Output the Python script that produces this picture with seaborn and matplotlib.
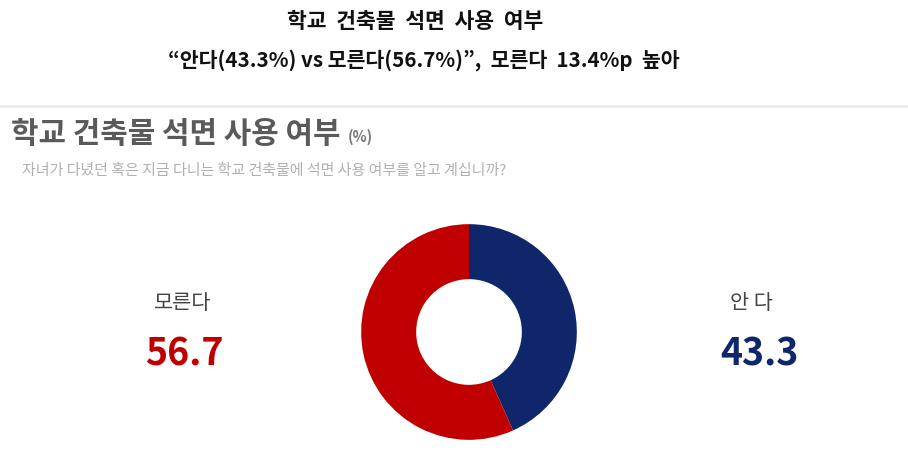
import matplotlib
matplotlib.use("Agg")
import matplotlib.pyplot as plt
import seaborn as sns

labels = ["안다", "모른다"]
values = [43.3, 56.7]
colors = ["#10266a", "#c00000"]
title_lines = ["학교 건축물 석면 사용 여부",
               "“안다(43.3%) vs 모른다(56.7%)”, 모른다 13.4%p 높아"]
chart_title = "학교 건축물 석면 사용 여부"
question = "자녀가 다녔던 혹은 지금 다니는 학교 건축물에 석면 사용 여부를 알고 계십니까?"

sns.set_theme(style="white")
plt.rcParams['font.family'] = ['Noto Sans CJK KR', 'DejaVu Sans']

W, H = 908, 475
fig = plt.figure(figsize=(W / 100, H / 100), dpi=100)
fig.patch.set_facecolor("white")

def fx(x):
    return x / W

def fy(y):
    return 1 - y / H

# Header
fig.text(fx(415), fy(22), title_lines[0].replace(" ", "  "), ha="center", va="center",
         fontsize=15.5, fontweight="bold", color="#111111")
fig.text(fx(424), fy(60), title_lines[1].replace(" 모른다 ", "  모른다  ").replace(" 높아", "  높아"),
         ha="center", va="center",
         fontsize=14.8, fontweight="bold", color="#111111")

# separator line
fig.add_artist(plt.Line2D([0, 1], [fy(106), fy(106)], color="#ececec", lw=2))

# chart title
fig.text(fx(11), fy(134), chart_title, ha="left", va="center",
         fontsize=21.5, fontweight="bold", color="#5a5a5a")
fig.text(fx(348), fy(137), "(%)", ha="left", va="center",
         fontsize=10.5, fontweight="bold", color="#777777")
fig.text(fx(22), fy(171), question, ha="left", va="center",
         fontsize=10.8, color="#b0b0b0")

# donut
cx, cy, r = 469, 332, 108
ax = fig.add_axes([fx(cx - r - 2), fy(cy + r + 2), (2 * r + 4) / W, (2 * r + 4) / H])
ax.pie(values, colors=colors, startangle=90, counterclock=False,
       radius=1.0, wedgeprops=dict(width=0.51, edgecolor="none"))
ax.set_xlim(-1.02, 1.02)
ax.set_ylim(-1.02, 1.02)
ax.set_aspect("equal")
ax.axis("off")

# side labels
fig.text(fx(183), fy(303), labels[1], ha="center", va="center",
         fontsize=15, color="#444444")
fig.text(fx(184), fy(354), f"{values[1]:.1f}", ha="center", va="center",
         fontsize=27, fontweight="bold", color=colors[1])
fig.text(fx(751), fy(303), labels[0].replace("안다", "안 다"), ha="center", va="center",
         fontsize=15, color="#444444")
fig.text(fx(759), fy(354), f"{values[0]:.1f}", ha="center", va="center",
         fontsize=27, fontweight="bold", color=colors[0])

fig.savefig("out.png", dpi=100, facecolor="white")
